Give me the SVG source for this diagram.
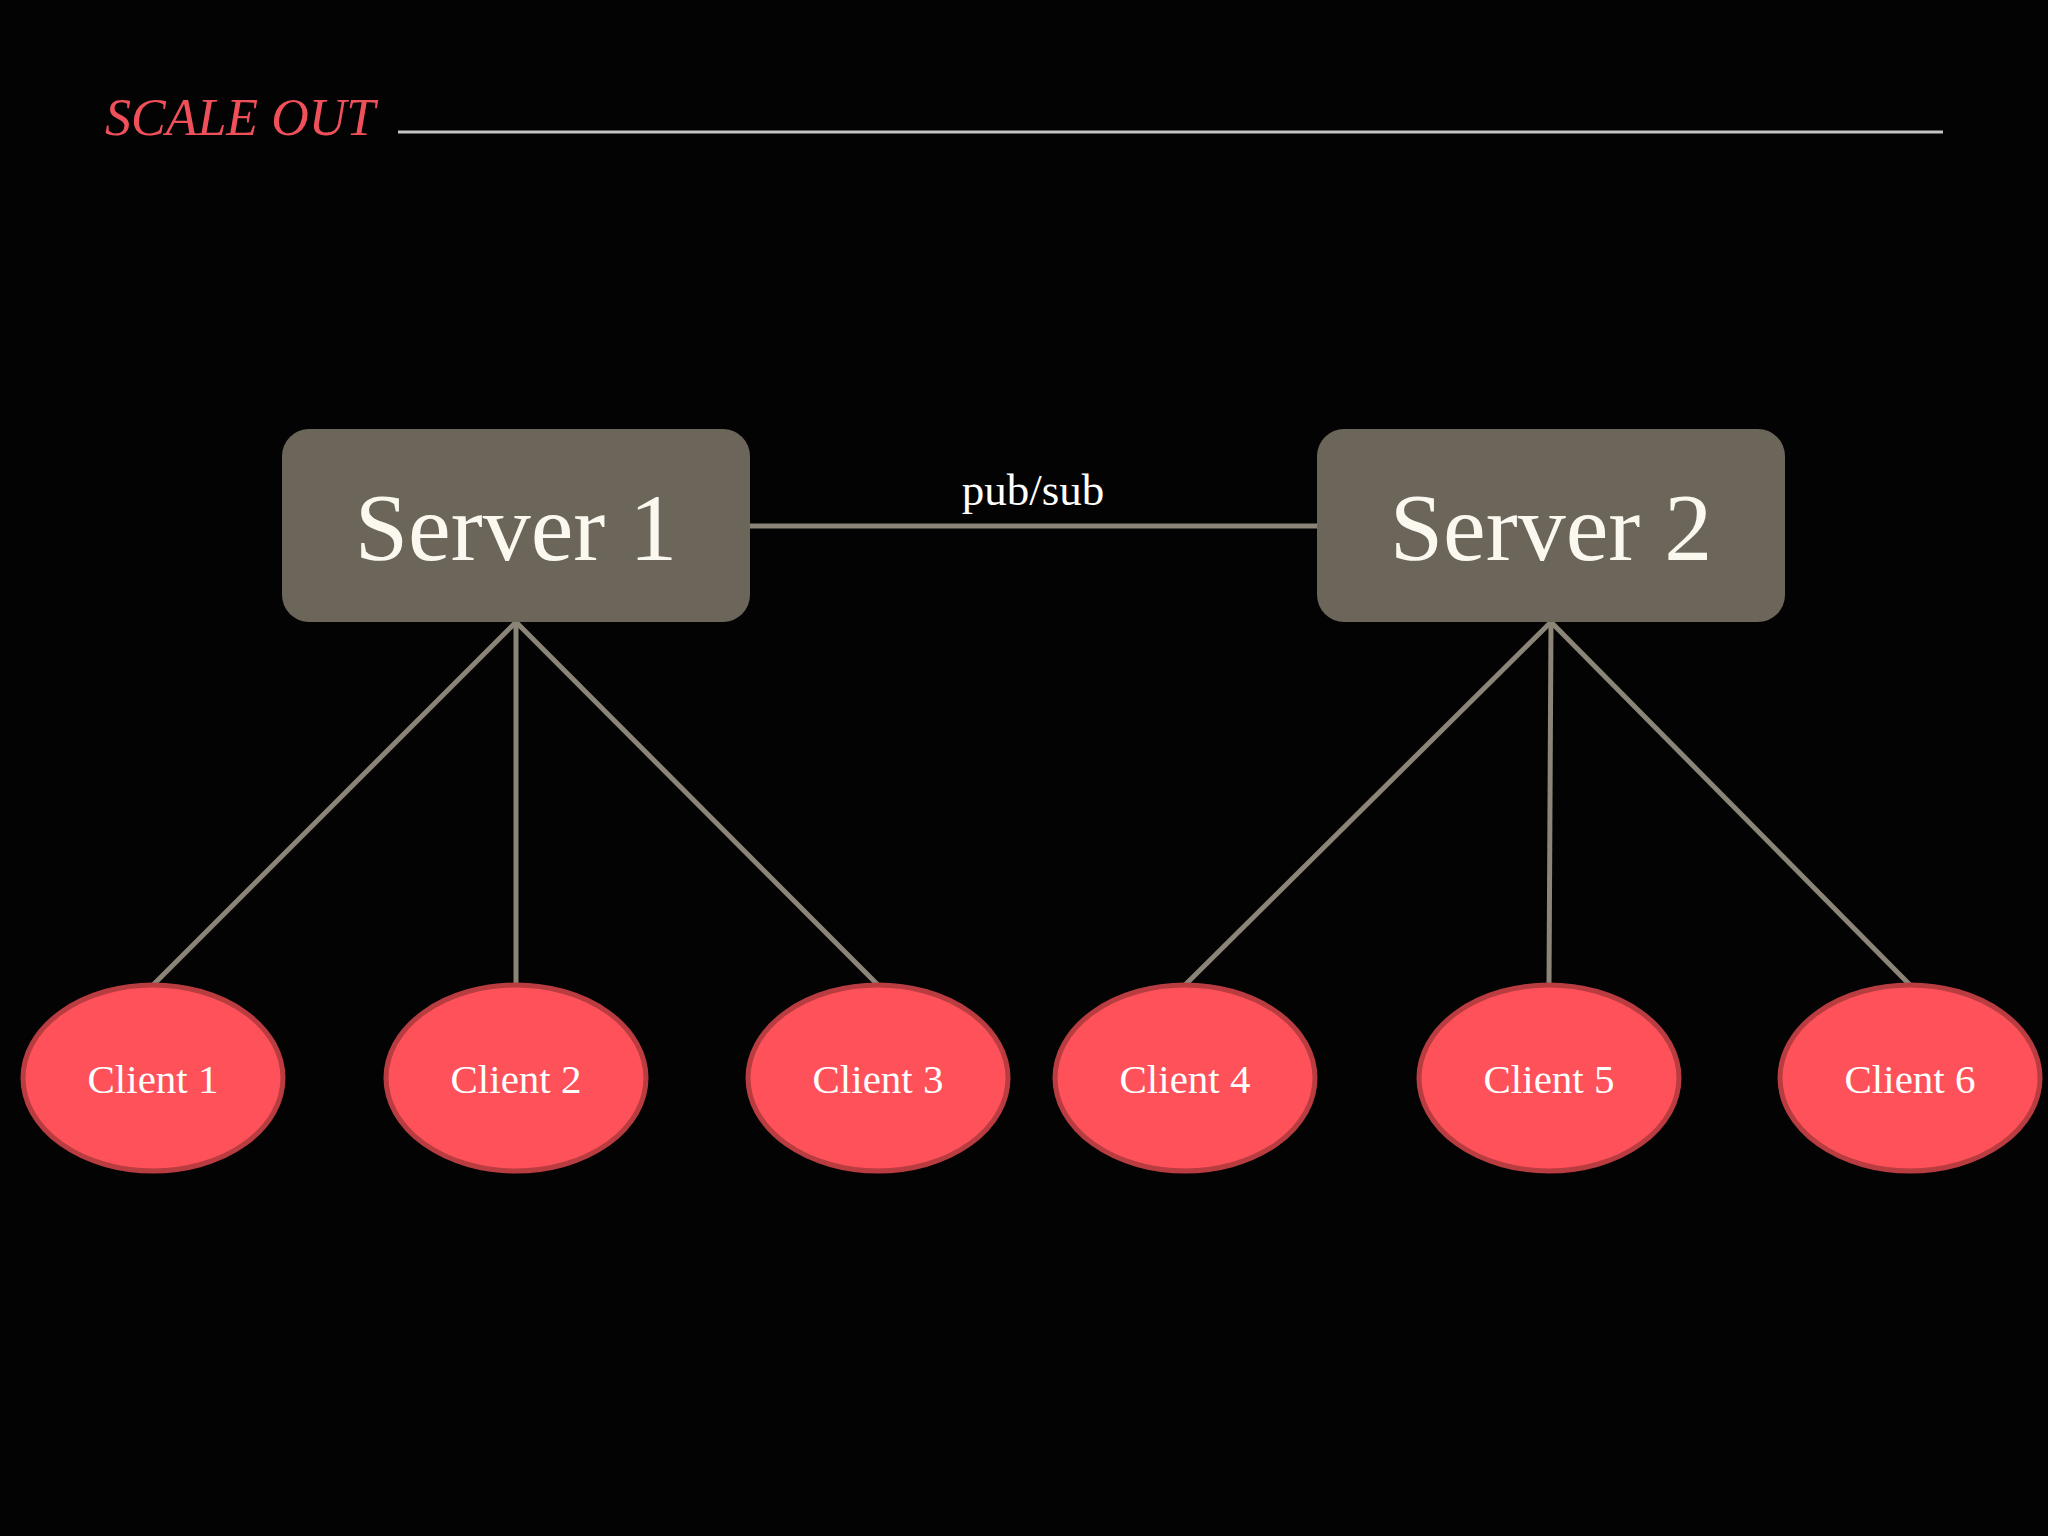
<svg xmlns="http://www.w3.org/2000/svg" width="2048" height="1536" viewBox="0 0 2048 1536">
<style>
.title{font-family:"Liberation Serif","DejaVu Serif",serif;font-style:italic;font-size:52px;fill:#f0505a}
.srv rect{fill:#6b655a}
.srv text{font-family:"Liberation Serif","DejaVu Serif",serif;font-size:96px;fill:#fbf8f0;text-anchor:middle}
.cli ellipse{fill:#fe5159;stroke:#b83c40;stroke-width:5}
.cli text{font-family:"Liberation Serif","DejaVu Serif",serif;font-size:41px;fill:#ffffff;text-anchor:middle}
.conn line{stroke:#8a8577;stroke-width:5;fill:none}
.lbl{font-family:"Liberation Serif","DejaVu Serif",serif;font-size:45px;fill:#ffffff;text-anchor:middle}
</style>
<rect x="0" y="0" width="2048" height="1536" fill="#040304"/>
<g id="title">
<text class="title" x="105" y="135">SCALE OUT</text>
<line x1="398" y1="132" x2="1943" y2="132" stroke="#c4c4c4" stroke-width="3"/>
</g>
<g id="connectors" class="conn">
<line x1="750" y1="526" x2="1317" y2="526"/>
<line x1="516" y1="622" x2="153" y2="985"/>
<line x1="516" y1="622" x2="516" y2="985"/>
<line x1="516" y1="622" x2="878" y2="985"/>
<line x1="1551" y1="622" x2="1185" y2="985"/>
<line x1="1551" y1="622" x2="1549" y2="985"/>
<line x1="1551" y1="622" x2="1910" y2="985"/>
<text class="lbl" x="1033" y="505">pub/sub</text>
</g>
<g id="server1" class="srv">
<rect x="282" y="429" width="468" height="193" rx="27"/>
<text x="516" y="560">Server 1</text>
</g>
<g id="server2" class="srv">
<rect x="1317" y="429" width="468" height="193" rx="27"/>
<text x="1551" y="560">Server 2</text>
</g>
<g id="client1" class="cli"><ellipse cx="153" cy="1078" rx="130" ry="93"/><text x="153" y="1093">Client 1</text></g>
<g id="client2" class="cli"><ellipse cx="516" cy="1078" rx="130" ry="93"/><text x="516" y="1093">Client 2</text></g>
<g id="client3" class="cli"><ellipse cx="878" cy="1078" rx="130" ry="93"/><text x="878" y="1093">Client 3</text></g>
<g id="client4" class="cli"><ellipse cx="1185" cy="1078" rx="130" ry="93"/><text x="1185" y="1093">Client 4</text></g>
<g id="client5" class="cli"><ellipse cx="1549" cy="1078" rx="130" ry="93"/><text x="1549" y="1093">Client 5</text></g>
<g id="client6" class="cli"><ellipse cx="1910" cy="1078" rx="130" ry="93"/><text x="1910" y="1093">Client 6</text></g>
</svg>
